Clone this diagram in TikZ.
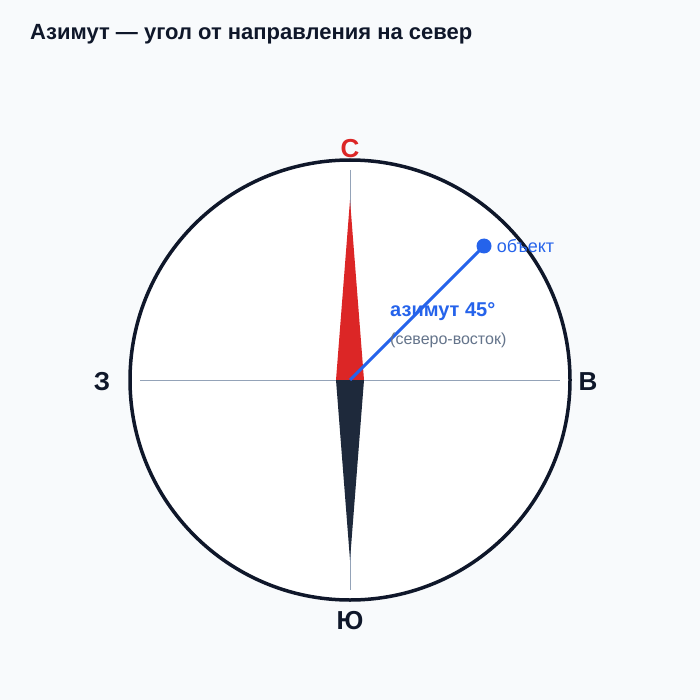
\documentclass[tikz,border=0pt]{standalone}
\usepackage{fontspec}
\setmainfont{Liberation Sans}
\usetikzlibrary{positioning}
\definecolor{pagebg}{HTML}{F8FAFC}
\definecolor{ink}{HTML}{0F172A}
\definecolor{axisgray}{HTML}{94A3B8}
\definecolor{northred}{HTML}{DC2626}
\definecolor{southdark}{HTML}{1E293B}
\definecolor{azblue}{HTML}{2563EB}
\definecolor{notegray}{HTML}{64748B}
\begin{document}
\begin{tikzpicture}[x=1pt,y=-1pt,
    cardinal/.style={font=\bfseries\fontsize{26}{26}\selectfont,text=ink,inner sep=0pt},
    dot/.style={circle,fill=azblue,minimum size=15pt,inner sep=0pt}]
    % 
    \fill[pagebg] (0,0) rectangle (700,700);
    \useasboundingbox (0,0) rectangle (700,700);
    \node[anchor=base west,inner sep=0pt,text=ink,font=\bfseries\fontsize{22}{22}\selectfont] (title) at (30,40) {Азимут — угол от направления на север};
    % 
    \coordinate (centre) at (350,380);
    \filldraw[fill=white,draw=ink,line width=3.5pt] (centre) circle (220);
    \draw[axisgray,line width=1pt] (140,380) -- (560,380);
    \draw[axisgray,line width=1pt] (350,170) -- (350,590);
    % 
    \fill[northred] (336,380) -- (350,200) -- (364,380) -- cycle;
    \fill[southdark] (336,380) -- (350,560) -- (364,380) -- cycle;
    % 
    \node[cardinal,text=northred] (north) at (350,149) {С};
    \node[cardinal] (south) at (350,621) {Ю};
    \node[cardinal] (west) at (102,382) {З};
    \node[cardinal] (east) at (588,382) {В};
    % 
    \node[dot] (obj) at (484,246) {};
    \draw[azblue,line width=3pt] (centre) -- (obj.center);
    \node[right=1pt of obj,inner sep=4pt,text=azblue,font=\fontsize{18}{18}\selectfont] (objlabel) {объект};
    \node[anchor=west,inner sep=0pt,text=azblue,font=\bfseries\fontsize{20}{20}\selectfont] (azlabel) at (390,312) {азимут 45°};
    \node[anchor=west,inner sep=0pt,text=notegray,font=\fontsize{16}{16}\selectfont] (dirlabel) at (390,340) {(северо-восток)};
  \end{tikzpicture}
\end{document}
